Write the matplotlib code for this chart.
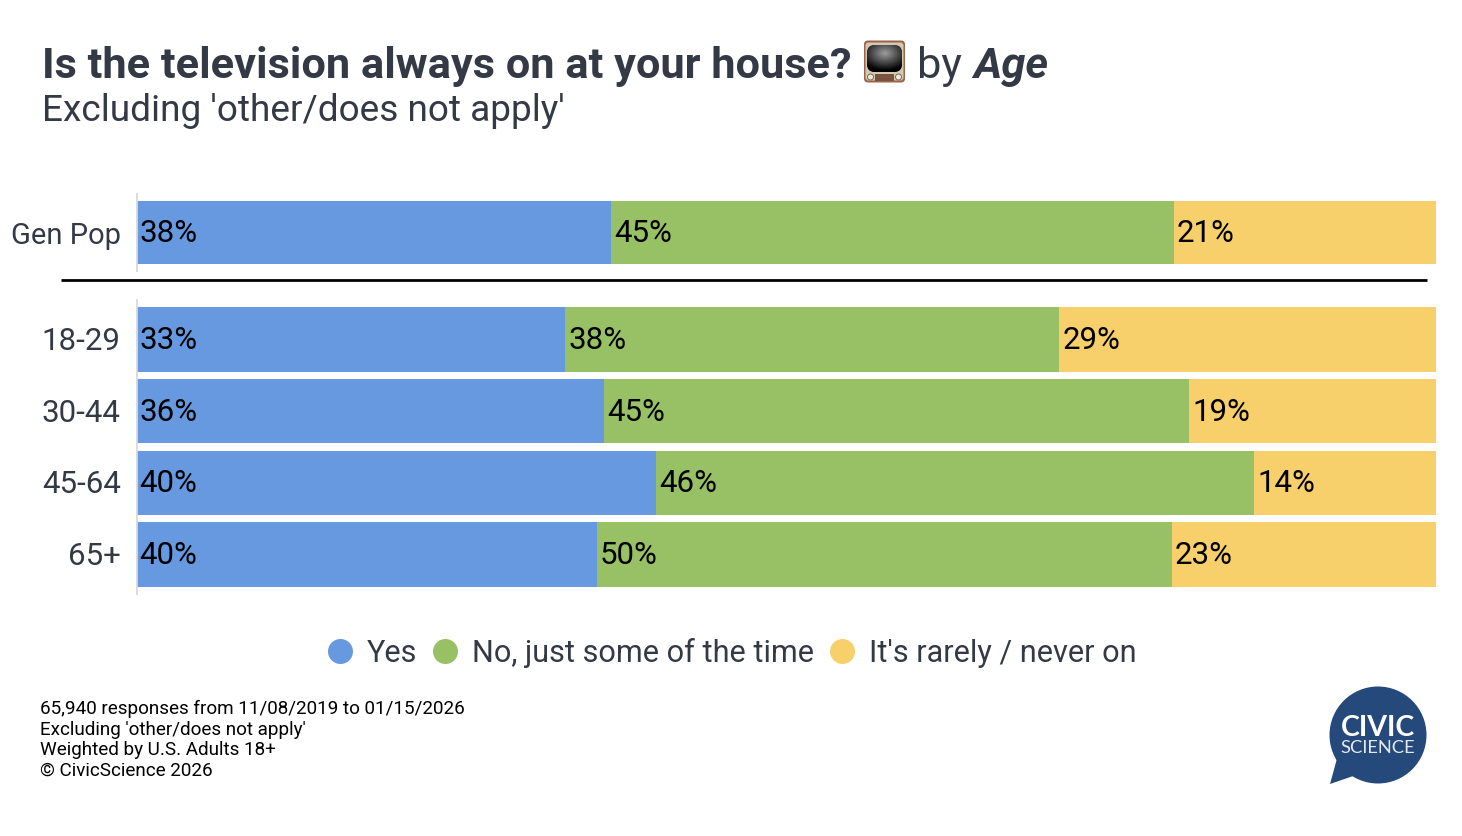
import numpy as np
import matplotlib.pyplot as plt
from matplotlib.lines import Line2D
from matplotlib.patches import Circle, FancyBboxPatch, Polygon, Rectangle
from matplotlib.transforms import ScaledTranslation

plt.rcParams.update({
    "font.family": "Roboto",
    "font.size": 14,
})

W, H = 1462, 836

top_groups = ["Gen Pop"]
top_yes = [38]
top_some = [45]
top_never = [21]

age_groups = ["18-29", "30-44", "45-64", "65+"]
age_yes = [33, 36, 40, 40]
age_some = [38, 45, 46, 50]
age_never = [29, 19, 14, 23]

series_names = ["Yes", "No, just some of the time", "It's rarely / never on"]
colors = ["#6699E0", "#97C164", "#F7CF6B"]
dark = "#343A45"

footnotes = [
    "65,940 responses from 11/08/2019 to 01/15/2026",
    "Excluding 'other/does not apply'",
    "Weighted by U.S. Adults 18+",
    "\u00a9 CivicScience 2026",
]


def fx(px):
    return px / W


def fy(px):
    return 1 - px / H


def add_axes(x0, y0, x1, y1):
    return fig.add_axes([fx(x0), fy(y1), fx(x1) - fx(x0), fy(y0) - fy(y1)])


def stacked(ax, groups, yes, some, never, height, margin, label_size=22.5, label_dy=0.0):
    # bars are stretched to full width, labels keep the raw percentages
    for i, name in enumerate(groups):
        vals = [yes[i], some[i], never[i]]
        total = sum(vals)
        left = 0
        for v, c in zip(vals, colors):
            ax.barh(i, v / total, left=left, height=height, color=c, linewidth=0)
            ax.annotate(f"{v}%", (left, i), xytext=(2.3, -0.7), textcoords="offset points",
                        va="center", ha="left", fontsize=22.5, color="black")
            left += v / total
    ax.set_yticks(range(len(groups)), groups)
    ax.set_xlim(0, 1)
    ax.set_ylim(len(groups) - 1 + margin, -margin)
    ax.set_xticks([])
    ax.tick_params(axis="y", length=0, pad=11.4, labelsize=label_size, labelcolor=dark)
    shift = ScaledTranslation(0, label_dy / 72, fig.dpi_scale_trans)
    for lab in ax.get_yticklabels():
        lab.set_transform(lab.get_transform() + shift)
    for s in ["top", "right", "bottom"]:
        ax.spines[s].set_visible(False)
    ax.spines["left"].set_color("#D9D9D9")
    ax.spines["left"].set_linewidth(1.3)


fig = plt.figure(figsize=(W / 100, H / 100), dpi=100)

ax1 = add_axes(136.5, 194, 1436, 271)
stacked(ax1, top_groups, top_yes, top_some, top_never, 0.82, 0.5, label_size=21)

ax2 = add_axes(136.5, 300, 1436, 594)
stacked(ax2, age_groups, age_yes, age_some, age_never, 0.9, 0.55, label_dy=0.7)

fig.add_artist(Line2D([fx(61), fx(1427)], [fy(280), fy(280)], color="black", lw=2.0,
                      solid_capstyle="butt"))

# title
fig.text(fx(42), fy(78), "Is the television always on at your house?", fontsize=31.25,
         fontweight="bold", color=dark, va="baseline")
fig.text(fx(917), fy(78), "by", fontsize=31.25, color=dark, va="baseline")
fig.text(fx(973), fy(78), "Age", fontsize=31.25, fontweight="bold", style="italic",
         color=dark, va="baseline")
fig.text(fx(42), fy(121), "Excluding 'other/does not apply'", fontsize=26.65, color=dark,
         va="baseline")

# tv icon
tv = add_axes(862, 40, 907, 83)
tv.set_xlim(0, 45)
tv.set_ylim(43, 0)
tv.axis("off")
tv.add_patch(FancyBboxPatch((2, 0.5), 41, 42, boxstyle="round,pad=0,rounding_size=4",
                            fc="#9C6448", ec="none"))
tv.add_patch(FancyBboxPatch((3.5, 2.5), 38, 38, boxstyle="round,pad=0,rounding_size=3",
                            fc="#D5C8B2", ec="none"))
screen = FancyBboxPatch((5, 5), 35, 27, boxstyle="round,pad=0,rounding_size=8",
                        fc="#2B2F30", ec="none")
tv.add_patch(screen)
yy, xx = np.mgrid[0:1:64j, 0:1:64j]
glow = 0.62 - 0.8 * np.hypot((xx - 0.5) * 1.1, (yy - 0.3) * 1.2)
im = tv.imshow(glow, extent=(5, 40, 32, 5), cmap="gray", vmin=0, vmax=1,
               aspect="auto", zorder=2, interpolation="bilinear")
im.set_clip_path(screen)
tv.set_xlim(0, 45)
tv.set_ylim(43, 0)
tv.add_patch(Rectangle((13, 34), 19, 6.5, fc="#7A5240", ec="none", zorder=3))
for kx in (8.5, 36.5):
    tv.add_patch(Circle((kx, 37), 3, fc="#EFE8DA", ec="#6B5A48", lw=0.6, zorder=3))

# legend
handles = [Line2D([], [], ls="none", marker="o", ms=18, mfc=c, mec="none") for c in colors]
leg = fig.legend(handles, series_names, loc="center", bbox_to_anchor=(fx(730.5), fy(653)),
                 ncol=3, frameon=False, fontsize=22.1, labelcolor=dark, handletextpad=0.37,
                 columnspacing=0.42, handlelength=1.0, borderpad=0)

# footnotes
for i, line in enumerate(footnotes):
    fig.text(fx(40), fy(714 + i * 20.7), line, fontsize=13.62, color="black", va="baseline")

# logo
logo = add_axes(1320, 680, 1436, 790)
logo.set_xlim(1320, 1436)
logo.set_ylim(790, 680)
logo.axis("off")
navy = "#24497A"
logo.add_patch(Circle((1378, 735), 48.5, fc=navy, ec="none"))
logo.add_patch(Polygon([(1338, 755), (1330, 784), (1362, 773)], fc=navy, ec="none"))
logo.text(1378, 736, "CIVIC", color="white", fontsize=20.5, fontweight="bold",
          family="Lato", ha="center", va="baseline")
logo.text(1378, 753, "SCIENCE", color="#E4EAF2", fontsize=13.2, family="Lato",
          ha="center", va="baseline")

fig.savefig("out.png", dpi=100)
